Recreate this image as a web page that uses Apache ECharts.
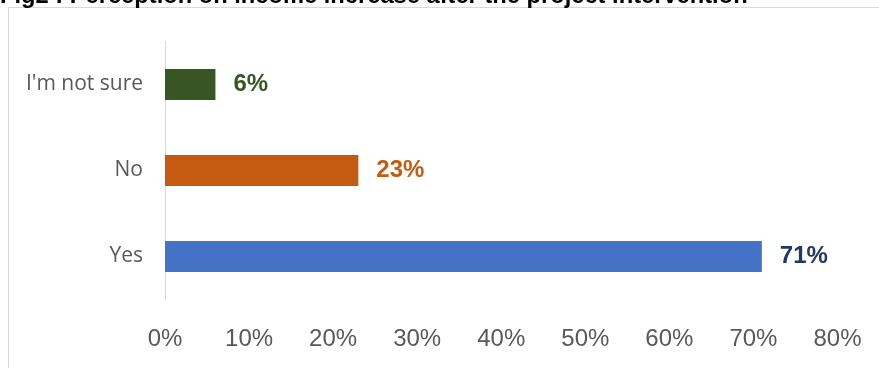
<!DOCTYPE html>
<html>
<head>
<meta charset="utf-8">
<script src="https://cdn.jsdelivr.net/npm/echarts@6/dist/echarts.min.js"></script>
<style>
  html, body { margin: 0; padding: 0; background: #ffffff; }
  #chart { width: 879px; height: 368px; }
</style>
</head>
<body>
<div id="chart"></div>
<script>
// Survey answers: perceived income increase after the intervention (percent of respondents)
const categories = ["Yes", "No", "I'm not sure"];
const shares = [71, 23, 6];
const barColors = ["#4472c4", "#c55a11", "#375623"];
const labelColors = ["#203864", "#c55a11", "#375623"];
const xTicks = [0, 10, 20, 30, 40, 50, 60, 70, 80];
const titleText = "Fig2 : Perception on income increase after the project intervention";

const chart = echarts.init(document.getElementById('chart'), null, { renderer: 'canvas' });

chart.setOption({
  backgroundColor: '#ffffff',
  animation: false,
  graphic: [
    {
      type: 'rect',
      shape: { x: 8.5, y: 7.5, width: 1200, height: 1200 },
      style: { fill: 'none', stroke: '#d9d9d9', lineWidth: 1 },
      silent: true
    },
    {
      type: 'text',
      x: 0,
      y: -3.2,
      style: {
        text: titleText,
        font: 'bold 23.7px "Liberation Sans", Arial, sans-serif',
        fill: '#000000',
        verticalAlign: 'middle',
        align: 'left'
      },
      silent: true
    }
  ],
  grid: { left: 165, right: 41.5, top: 41.5, bottom: 68.5, containLabel: false },
  xAxis: {
    type: 'value',
    min: xTicks[0],
    max: xTicks[xTicks.length - 1],
    interval: xTicks[1] - xTicks[0],
    axisLine: { show: false },
    axisTick: { show: false },
    splitLine: { show: false },
    axisLabel: {
      formatter: v => v + '%',
      color: '#595959',
      fontFamily: '"Liberation Sans", Arial, sans-serif',
      fontSize: 24,
      margin: 28
    }
  },
  yAxis: {
    type: 'category',
    data: categories,
    axisLine: { show: true, lineStyle: { color: '#d9d9d9', width: 1 } },
    axisTick: { show: false },
    splitLine: { show: false },
    axisLabel: {
      color: '#595959',
      fontFamily: '"Open Sans", sans-serif',
      fontSize: 21,
      padding: [9, 0, 0, 0],
      margin: 22
    }
  },
  series: [{
    type: 'bar',
    barCategoryGap: '64%',
    data: shares.map((v, i) => ({
      value: v,
      itemStyle: { color: barColors[i] },
      label: { color: labelColors[i] }
    })),
    label: {
      show: true,
      position: 'right',
      distance: 18,
      padding: [7, 0, 0, 0],
      formatter: p => p.value + '%',
      fontFamily: '"Liberation Sans", Arial, sans-serif',
      fontWeight: 'bold',
      fontSize: 24
    }
  }]
});
</script>
</body>
</html>
